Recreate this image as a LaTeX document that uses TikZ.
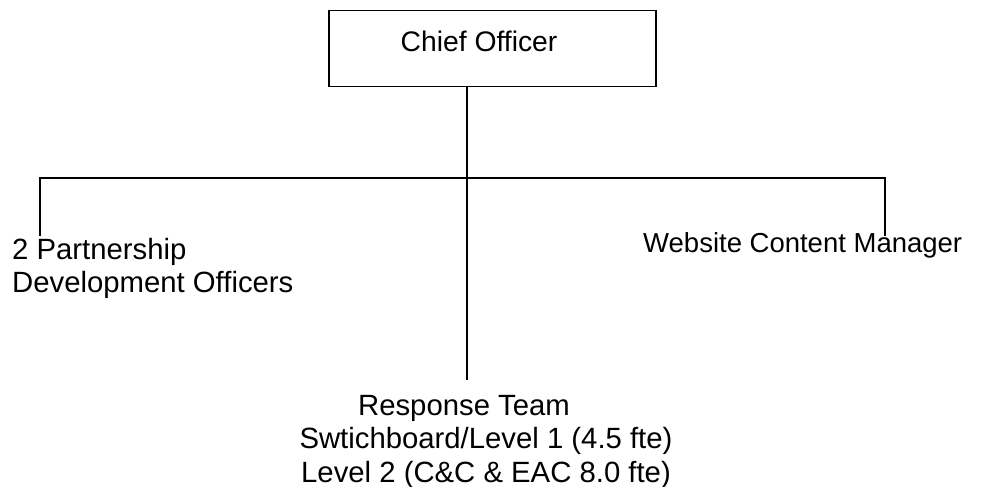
\documentclass[tikz,border=0pt]{standalone}
\usepackage{fontspec}
\setmainfont{Liberation Sans}
\begin{document}
\begin{tikzpicture}[x=1bp,y=-1bp,
  lbl/.style={inner sep=0pt,font=\fontsize{29.3bp}{33.5bp}\selectfont},
  conn/.style={line width=1.3bp,black}]
\useasboundingbox (0,0) rectangle (982,487);
\node[draw,line width=1.5bp,minimum width=327bp,minimum height=76bp,anchor=north west,inner sep=0pt] (chief) at (328,10) {};
\node[lbl,font=\fontsize{28.3bp}{34bp}\selectfont,anchor=base] (chieftxt) at (479,52) {Chief Officer};
\node[lbl,font=\fontsize{29.3bp}{33bp}\selectfont,anchor=base west,align=left] (pdo) at (12,293) {2 Partnership\\Development Officers};
\node[lbl,font=\fontsize{27.5bp}{33bp}\selectfont,anchor=base west] (web) at (643,253) {Website Content Manager};
\node[lbl,anchor=base,align=center] (resp) at (486,482) {Response Team\hspace*{44bp}\\Swtichboard/Level 1 (4.5 fte)\\Level 2 (C\&C \& EAC 8.0 fte)};
\coordinate (top) at (467,86);
\coordinate (bus) at (467,178);
\coordinate (busL) at (40,178);
\coordinate (busR) at (885,178);
\coordinate (endL) at (40,236);
\coordinate (endR) at (885,236);
\coordinate (endM) at (467,380);
\draw[conn] (top) -- (endM);
\draw[conn] (endL) -- (busL) -- (busR) -- (endR);
\end{tikzpicture}
\end{document}
